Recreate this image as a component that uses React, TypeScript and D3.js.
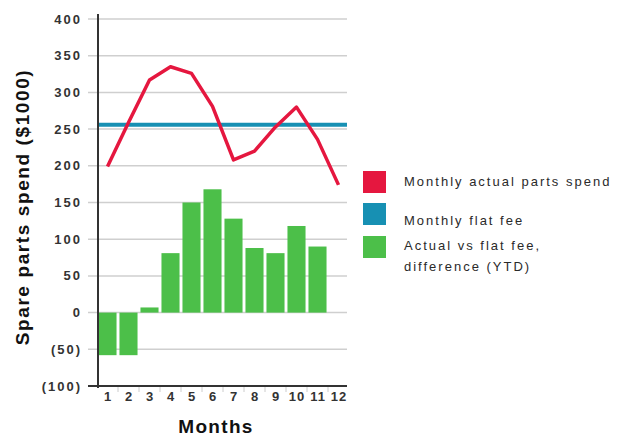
import React from "react";
import * as d3 from "d3";

const months = ["1", "2", "3", "4", "5", "6", "7", "8", "9", "10", "11", "12"];
const actualSpend = [199, 259, 317, 335, 326, 281, 208, 220, 253, 280, 236, 174];
const flatFee = [256, 256, 256, 256, 256, 256, 256, 256, 256, 256, 256, 256];
const difference: (number | null)[] = [-58, -58, 7, 81, 150, 168, 128, 88, 81, 118, 90, null];
const yTicks = [-100, -50, 0, 50, 100, 150, 200, 250, 300, 350, 400];
const legendLabels = [["Monthly actual parts spend"], ["Monthly flat fee"], ["Actual vs flat fee,", "difference (YTD)"]];

const RED = "#e5173f";
const TEAL = "#1790b3";
const GREEN = "#4cbf49";
const FONT = "'Liberation Sans', Arial, sans-serif";

export default function App() {
  const x = d3.scaleBand<string>().domain(months).range([97, 349]).paddingInner(0.14).paddingOuter(0.07);
  const xb = d3.scaleBand<string>().domain(months).range([97, 349]);
  const y = d3.scaleLinear().domain([-100, 400]).range([386, 19]);
  const cx = (m: string) => (xb(m) as number) + xb.bandwidth() / 2;

  const line = d3.line<number>().x((_, i) => cx(months[i])).y((d) => y(d));
  const fee = d3.line<number>().x((_, i) => (i === 0 ? 98 : i === flatFee.length - 1 ? 347 : cx(months[i]))).y((d) => y(d));
  const legendColors = [RED, TEAL, GREEN];
  const swatchY = [171, 203, 236];
  const textY = [186, 225, 250];

  return (
    <svg width={619} height={436} style={{ position: "absolute", left: 0, top: 0, background: "#fff" }}>
      {yTicks.map((t) => (
        <g key={t}>
          {t !== -100 && <line x1={88} x2={347} y1={y(t)} y2={y(t)} stroke="#cfcfcf" strokeWidth={1.5} />}
          <text x={82} y={y(t)} dy="0.35em" textAnchor="end" fontFamily={FONT} fontWeight="bold" fontSize={13} letterSpacing={2} fill="#333">
            {t < 0 ? `(${-t})` : t}
          </text>
        </g>
      ))}
      {difference.map((d, i) =>
        d === null ? null : (
          <rect key={i} x={x(months[i])} width={x.bandwidth()} y={y(Math.max(0, d))} height={Math.abs(y(d) - y(0))} fill={GREEN} />
        )
      )}
      <path d={fee(flatFee) || ""} fill="none" stroke={TEAL} strokeWidth={4} />
      <path d={line(actualSpend) || ""} fill="none" stroke={RED} strokeWidth={3.5} strokeLinejoin="round" />
      <line x1={98} x2={98} y1={14} y2={388} stroke="#333" strokeWidth={2} />
      <line x1={88} x2={347} y1={386} y2={386} stroke="#333" strokeWidth={2} />
      {months.map((m, i) => (
        <g key={m}>
          {i > 0 && <line x1={xb(m)} x2={xb(m)} y1={387} y2={392} stroke="#ccc" strokeWidth={1} />}
          <text x={cx(m) + 0.5} y={401} textAnchor="middle" fontFamily={FONT} fontWeight="bold" fontSize={13} letterSpacing={1} fill="#333">
            {m}
          </text>
        </g>
      ))}
      <text x={216} y={433} textAnchor="middle" fontFamily={FONT} fontWeight="bold" fontSize={19} fill="#111" letterSpacing={1.3}>
        Months
      </text>
      <text
        transform="translate(29,207) rotate(-90)"
        textAnchor="middle"
        fontFamily={FONT}
        fontWeight="bold"
        fontSize={19}
        fill="#111"
        letterSpacing={1.6}
      >
        Spare parts spend ($1000)
      </text>
      {legendLabels.map((lines, i) => (
        <g key={i}>
          <rect x={363} y={swatchY[i]} width={23} height={22} fill={legendColors[i]} />
          {lines.map((l, j) => (
            <text key={j} x={404} y={textY[i] + j * 21} fontFamily={FONT} fontSize={13} fill="#2a2a2a" letterSpacing={2}>
              {l}
            </text>
          ))}
        </g>
      ))}
    </svg>
  );
}
